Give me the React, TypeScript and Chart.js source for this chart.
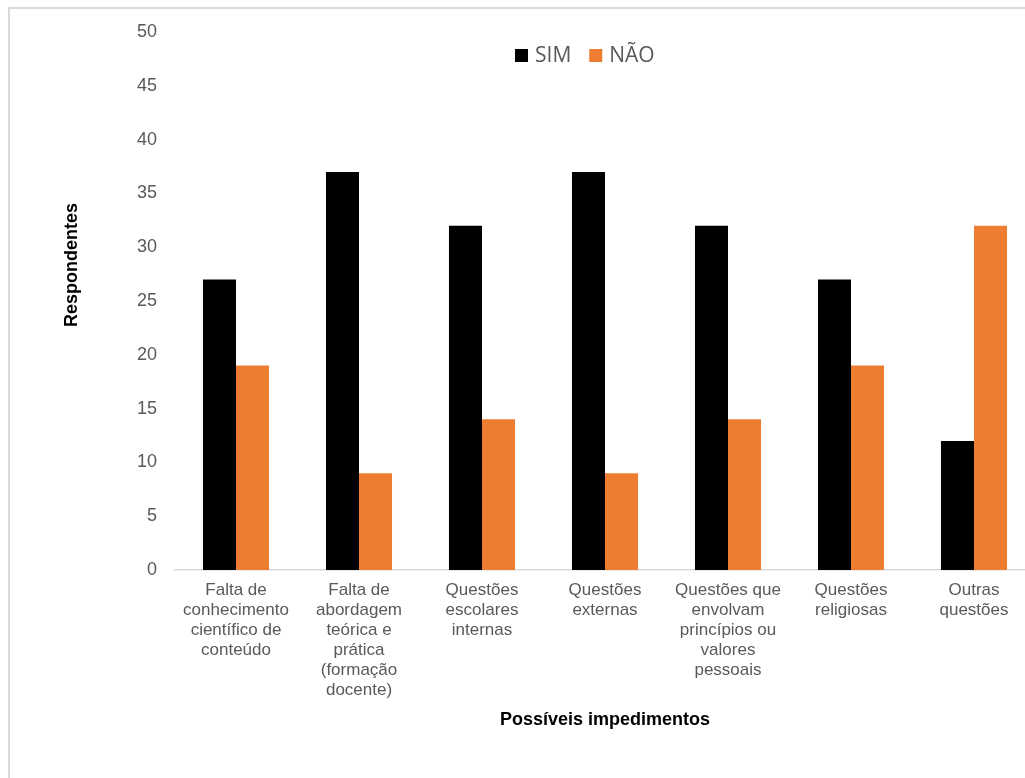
import React, { useEffect, useRef } from "react";
import { Chart, registerables } from "chart.js";

Chart.register(...registerables);

const categories: string[][] = [
  ["Falta de", "conhecimento", "científico de", "conteúdo"],
  ["Falta de", "abordagem", "teórica e", "prática", "(formação", "docente)"],
  ["Questões", "escolares", "internas"],
  ["Questões", "externas"],
  ["Questões que", "envolvam", "princípios ou", "valores", "pessoais"],
  ["Questões", "religiosas"],
  ["Outras", "questões"],
];
const simValues = [27, 37, 32, 37, 32, 27, 12];
const naoValues = [19, 9, 14, 9, 14, 19, 32];
const seriesNames = ["SIM", "NÃO"];
const seriesColors = ["#000000", "#ED7D31"];
const yTitle = "Respondentes";
const xTitle = "Possíveis impedimentos";

const CANVAS_W = 1060;
const CANVAS_H = 778;

const overlayPlugin = {
  id: "overlay",
  afterDraw(chart: any) {
    const ctx = chart.ctx;
    ctx.save();
    // y axis title
    ctx.fillStyle = "#000000";
    ctx.font = "bold 18px 'Liberation Sans', Arial, sans-serif";
    ctx.textAlign = "center";
    ctx.textBaseline = "middle";
    ctx.translate(72, 265);
    ctx.rotate(-Math.PI / 2);
    ctx.fillText(yTitle, 0, 0);
    ctx.restore();

    // legend
    ctx.save();
    ctx.font = "21px 'Open Sans', sans-serif";
    ctx.textBaseline = "alphabetic";
    ctx.textAlign = "left";
    let x = 515;
    seriesNames.forEach((name, i) => {
      ctx.fillStyle = seriesColors[i];
      ctx.fillRect(x, 49, 13, 13);
      ctx.fillStyle = "#595959";
      ctx.fillText(name, x + 20, 62);
      x += 20 + ctx.measureText(name).width + 18;
    });
    ctx.restore();
  },
};

export default function App() {
  const ref = useRef<HTMLCanvasElement>(null);
  useEffect(() => {
    if (!ref.current) return;
    const chart = new Chart(ref.current, {
      type: "bar",
      data: {
        labels: categories,
        datasets: [
          {
            label: seriesNames[0],
            data: simValues,
            backgroundColor: seriesColors[0],
            categoryPercentage: 0.537,
            barPercentage: 1,
          },
          {
            label: seriesNames[1],
            data: naoValues,
            backgroundColor: seriesColors[1],
            categoryPercentage: 0.537,
            barPercentage: 1,
          },
        ],
      },
      options: {
        responsive: false,
        animation: false,
        devicePixelRatio: 1,
        layout: { padding: { left: 0, right: CANVAS_W - 1035.5, top: 32, bottom: 0 } },
        plugins: {
          legend: { display: false },
          tooltip: { enabled: false },
        },
        scales: {
          x: {
            grid: { display: false, drawTicks: false },
            border: { display: true, color: "#d9d9d9", width: 1.5 },
            ticks: {
              autoSkip: false,
              maxRotation: 0,
              minRotation: 0,
              padding: 10,
              color: "#595959",
              font: { family: "'Liberation Sans', Arial, sans-serif", size: 17, lineHeight: "20px" },
            },
            title: {
              display: true,
              text: xTitle,
              color: "#000000",
              font: { family: "'Liberation Sans', Arial, sans-serif", size: 18, weight: "bold" },
              padding: { top: 0, bottom: 47.5 },
            },
            afterFit(scale: any) {
              scale.height = CANVAS_H - 570;
            },
          },
          y: {
            min: 0,
            max: 50,
            grid: { display: false, drawTicks: false },
            border: { display: false },
            ticks: {
              stepSize: 5,
              padding: 17.5,
              color: "#595959",
              font: { family: "'Liberation Sans', Arial, sans-serif", size: 18 },
            },
            afterFit(scale: any) {
              scale.width = 174.5;
            },
          },
        },
      },
      plugins: [overlayPlugin],
    });
    return () => chart.destroy();
  }, []);

  return (
    <div
      style={{
        position: "fixed",
        left: 0,
        top: 0,
        width: 1025,
        height: 778,
        overflow: "hidden",
        background: "#ffffff",
      }}
    >
      <div
        style={{
          position: "absolute",
          left: 8,
          top: 7,
          width: 1200,
          height: 1000,
          border: "2px solid #d9d9d9",
          boxSizing: "border-box",
        }}
      />
      <canvas
        ref={ref}
        width={CANVAS_W}
        height={CANVAS_H}
        style={{ position: "absolute", left: 0, top: 0, width: CANVAS_W, height: CANVAS_H }}
      />
    </div>
  );
}
